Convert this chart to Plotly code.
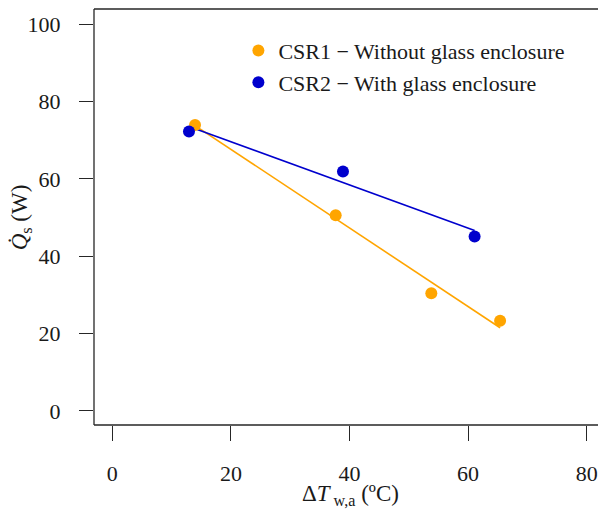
import numpy as np
import plotly.graph_objects as go

# Data
csr1_dT = [13.95, 37.67, 53.8, 65.4]
csr1_Q = [73.9, 50.6, 30.4, 23.3]
csr2_dT = [12.93, 38.9, 61.1]
csr2_Q = [72.2, 61.9, 45.1]
series_names = ["CSR1 \u2212 Without glass enclosure", "CSR2 \u2212 With glass enclosure"]
x_ticks = [0, 20, 40, 60, 80]
y_ticks = [0, 20, 40, 60, 80, 100]

ORANGE = "#FFA500"
BLUE = "#0000CD"
AX = "#262626"
TXT = "#1a1a1a"
FONT = "Liberation Serif"

fig = go.Figure()

for xs, ys, col in [(csr1_dT, csr1_Q, ORANGE), (csr2_dT, csr2_Q, BLUE)]:
    xs = np.array(xs)
    ys = np.array(ys)
    m, b = np.polyfit(xs, ys, 1)
    xl = np.array([xs.min(), xs.max()])
    fig.add_trace(go.Scatter(x=xl, y=m * xl + b, mode="lines",
                             line=dict(color=col, width=1.6),
                             showlegend=False, hoverinfo="skip"))

for xs, ys, col, name in [(csr1_dT, csr1_Q, ORANGE, series_names[0]),
                          (csr2_dT, csr2_Q, BLUE, series_names[1])]:
    fig.add_trace(go.Scatter(x=xs, y=ys, mode="markers", name=name,
                             marker=dict(color=col, size=12, line=dict(width=0))))

# the page body adds an 8px margin, so the figure is sized / offset to compensate
fig.update_layout(
    width=598, height=501,
    margin=dict(l=86, r=0, t=1, b=84),
    paper_bgcolor="white", plot_bgcolor="white",
    font=dict(family=FONT, size=22, color=TXT),
    showlegend=True,
    legend=dict(x=0.282, y=0.95, xanchor="left", yanchor="top",
                bgcolor="rgba(0,0,0,0)", font=dict(size=22, family=FONT, color=TXT),
                itemsizing="constant", tracegroupgap=0),
    xaxis=dict(range=[-3.09, 83.26], tickvals=x_ticks, ticks="outside",
               ticklen=15, tickwidth=1.3, tickcolor=AX, showgrid=False,
               zeroline=False, showline=False, ticklabelstandoff=14,
               tickfont=dict(size=22, family=FONT, color=TXT)),
    yaxis=dict(range=[-3.62, 103.88], tickvals=y_ticks, ticks="outside",
               ticklen=14, tickwidth=1.3, tickcolor=AX, showgrid=False,
               zeroline=False, showline=False, ticklabelstandoff=14,
               tickfont=dict(size=22, family=FONT, color=TXT)),
    shapes=[
        dict(type="line", xref="paper", yref="paper", x0=0, x1=1, y0=1, y1=1,
             line=dict(color=AX, width=1.3)),
        dict(type="line", xref="paper", yref="paper", x0=0, x1=1, y0=0, y1=0,
             line=dict(color=AX, width=1.3)),
        dict(type="line", xref="paper", yref="paper", x0=0, x1=0, y0=0, y1=1,
             line=dict(color=AX, width=1.3)),
    ],
    annotations=[
        dict(text="<i>Q\u0307</i><sub>s</sub> (W)", xref="paper", yref="paper",
             x=-0.142, y=0.5, textangle=-90, showarrow=False,
             xanchor="center", yanchor="middle", font=dict(size=23, family=FONT, color=TXT)),
        dict(text="\u0394<i>T</i><sub> w,a</sub> (\u00baC)", xref="paper", yref="paper",
             x=0.5, y=-0.168, showarrow=False, xanchor="center", yanchor="middle",
             font=dict(size=23, family=FONT, color=TXT)),
    ],
)

fig.write_html("out.html")
